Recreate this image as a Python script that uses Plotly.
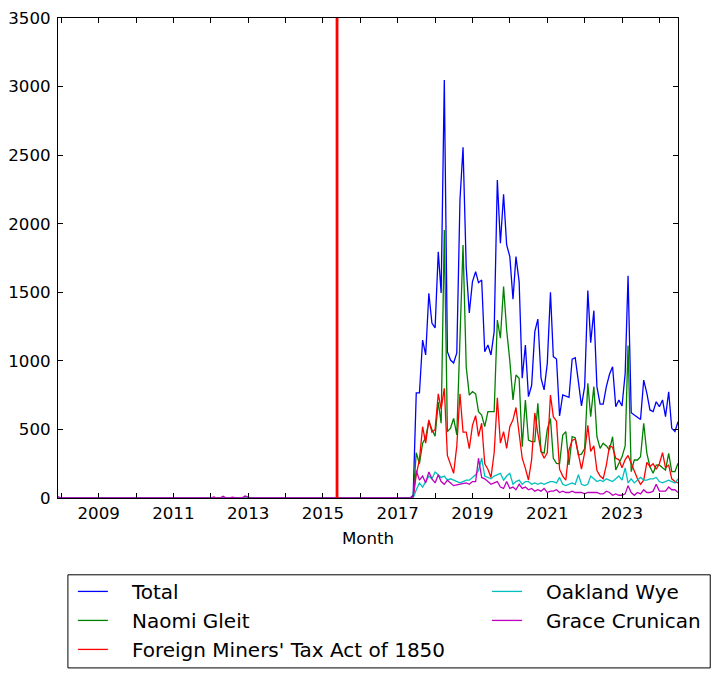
import pandas as pd
import plotly.graph_objects as go

# ---- data (monthly) ----
start_month = "2007-12-01"
end_month = "2024-07-01"
active_start = "2017-06-01"   # series are flat at zero before this month

# tiny early values for Grace Crunican (otherwise zero before active_start)
grace_early = {"2007-12-01": 10, "2012-02-01": 8, "2012-05-01": 12,
               "2012-08-01": 6, "2012-12-01": 14, "2013-01-01": 5}

# values from 2017-06 to 2024-07
total = [20,
         766, 766, 1152, 1043, 1493, 1276, 1240, 1796, 1495, 3048,
         1067, 1006, 984, 1058, 2173, 2557, 1680, 1349, 1578, 1650,
         1570, 1590, 1067, 1116, 1043, 1213, 2319, 1857, 2214, 1845,
         1760, 1449, 1760, 1578, 873, 1116, 739, 820, 1213, 1305,
         873, 788, 982, 1500, 1031, 1013, 598, 751, 744, 734,
         1013, 1023, 848, 671, 812, 1512, 1133, 1366, 812, 685,
         685, 812, 902, 957, 666, 715, 671, 909, 1621, 622,
         605, 588, 573, 860, 763, 642, 630, 702, 666, 715,
         593, 775, 508, 484, 556]

naomi = [10,
         330, 250, 400, 440, 560, 500, 450, 700, 545, 1954,
         484, 510, 580, 460, 1200, 1845, 957, 750, 775, 760,
         630, 605, 520, 630, 630, 630, 1298, 1165, 1541, 1225,
         1000, 715, 897, 873, 374, 715, 423, 411, 411, 690,
         338, 326, 500, 580, 289, 253, 250, 459, 484, 241,
         447, 440, 314, 320, 360, 836, 593, 812, 447, 362,
         399, 380, 350, 447, 204, 250, 300, 380, 1111, 192,
         277, 277, 301, 545, 326, 228, 180, 240, 241, 220,
         204, 326, 192, 192, 253]

miners = [0,
          170, 280, 520, 400, 570, 480, 500, 760, 650, 800,
          310, 250, 180, 380, 760, 480, 480, 360, 530, 600,
          450, 545, 250, 210, 150, 330, 730, 400, 484, 362,
          520, 570, 660, 470, 290, 216, 131, 280, 620, 470,
          340, 290, 330, 751, 593, 560, 210, 160, 130, 350,
          420, 430, 320, 210, 330, 530, 340, 380, 200, 160,
          140, 240, 380, 370, 290, 280, 220, 280, 310, 250,
          200, 140, 100, 130, 260, 230, 250, 210, 250, 330,
          220, 240, 140, 120, 110]

oakland = [0,
           60, 110, 80, 120, 160, 140, 190, 170, 150, 160,
           130, 140, 130, 120, 110, 120, 130, 130, 150, 170,
           200, 290, 160, 150, 140, 160, 170, 180, 130, 160,
           180, 100, 120, 130, 100, 120, 120, 100, 110, 100,
           110, 100, 110, 120, 120, 110, 150, 100, 90, 100,
           110, 100, 170, 100, 90, 100, 160, 140, 120, 130,
           120, 140, 130, 120, 140, 160, 130, 220, 110, 140,
           110, 130, 150, 130, 130, 140, 140, 150, 120, 110,
           120, 130, 120, 110, 140]

grace = [10,
         200, 130, 160, 110, 190, 140, 110, 170, 120, 100,
         130, 110, 90, 95, 100, 100, 110, 100, 120, 120,
         290, 150, 140, 120, 100, 110, 120, 80, 70, 120,
         70, 80, 60, 100, 70, 80, 60, 70, 50, 60,
         50, 70, 40, 50, 50, 60, 40, 50, 40, 40,
         50, 40, 40, 40, 30, 40, 40, 40, 40, 30,
         30, 50, 40, 20, 30, 20, 20, 30, 90, 40,
         20, 40, 30, 60, 40, 40, 50, 100, 50, 50,
         50, 80, 60, 60, 40]

event_date = "2015-05-19"
year_ticks = list(range(2008, 2025))
labelled_years = [y for y in year_ticks if y % 2 == 1]

# ---- assemble full monthly series ----
all_months = pd.date_range(start_month, end_month, freq="MS")
early_months = pd.date_range(start_month, active_start, freq="MS")[:-1]
n_early = len(early_months)


def full(series, early=None):
    early_vals = [0] * n_early
    if early:
        for d, v in early.items():
            early_vals[list(early_months).index(pd.Timestamp(d))] = v
    return early_vals + list(series)


series = [
    ("Total", full(total), "#0000ff", "legend"),
    ("Naomi Gleit", full(naomi), "#008000", "legend"),
    ("Foreign Miners' Tax Act of 1850", full(miners), "#ff0000", "legend"),
    ("Oakland Wye", full(oakland), "#00bfbf", "legend2"),
    ("Grace Crunican", full(grace, grace_early), "#bf00bf", "legend2"),
]

PAD = "\u00a0\u00a0\u00a0"  # matplotlib-style gap between legend line and label

fig = go.Figure()
for name, vals, color, leg in series:
    fig.add_trace(go.Scatter(x=all_months, y=vals, mode="lines", name=PAD + name,
                             line=dict(color=color, width=1.3), legend=leg))

font_family = "DejaVu Sans"
tick_font = dict(family=font_family, size=16.67, color="black")
legend_font = dict(family=font_family, size=20, color="black")

fig.update_layout(
    width=712, height=671,
    margin=dict(l=50, r=42, t=10, b=181, autoexpand=False),
    plot_bgcolor="white", paper_bgcolor="white",
    font=dict(family=font_family, color="black"),
    showlegend=True,
    legend=dict(x=0.024, y=-0.154, xanchor="left", yanchor="top",
                font=legend_font, bgcolor="rgba(0,0,0,0)", borderwidth=0,
                itemwidth=30, tracegroupgap=0),
    legend2=dict(x=0.692, y=-0.154, xanchor="left", yanchor="top",
                 font=legend_font, bgcolor="rgba(0,0,0,0)", borderwidth=0,
                 itemwidth=30, tracegroupgap=0),
    xaxis=dict(
        type="date", automargin=False,
        range=[start_month, end_month],
        tickvals=[f"{y}-01-01" for y in year_ticks],
        ticktext=[str(y) if y in labelled_years else "" for y in year_ticks],
        ticks="inside", ticklen=5, tickcolor="black",
        showline=True, linecolor="black", linewidth=1, mirror="ticks",
        showgrid=False, zeroline=False,
        tickfont=tick_font,
        title=dict(text="Month", font=tick_font, standoff=10),
    ),
    yaxis=dict(
        automargin=False,
        range=[0, 3500], tickmode="linear", tick0=0, dtick=500,
        ticks="inside", ticklen=5, tickcolor="black",
        showline=True, linecolor="black", linewidth=1, mirror="ticks",
        showgrid=False, zeroline=False, ticklabelstandoff=3,
        tickfont=tick_font,
    ),
    shapes=[
        dict(type="line", xref="x", yref="paper", x0=event_date, x1=event_date,
             y0=0, y1=1, line=dict(color="red", width=2.8)),
        dict(type="rect", xref="paper", yref="paper",
             x0=0.016, x1=1.052, y0=-0.354, y1=-0.160,
             line=dict(color="black", width=1), fillcolor="rgba(0,0,0,0)"),
    ],
)

fig.write_html("out.html")
